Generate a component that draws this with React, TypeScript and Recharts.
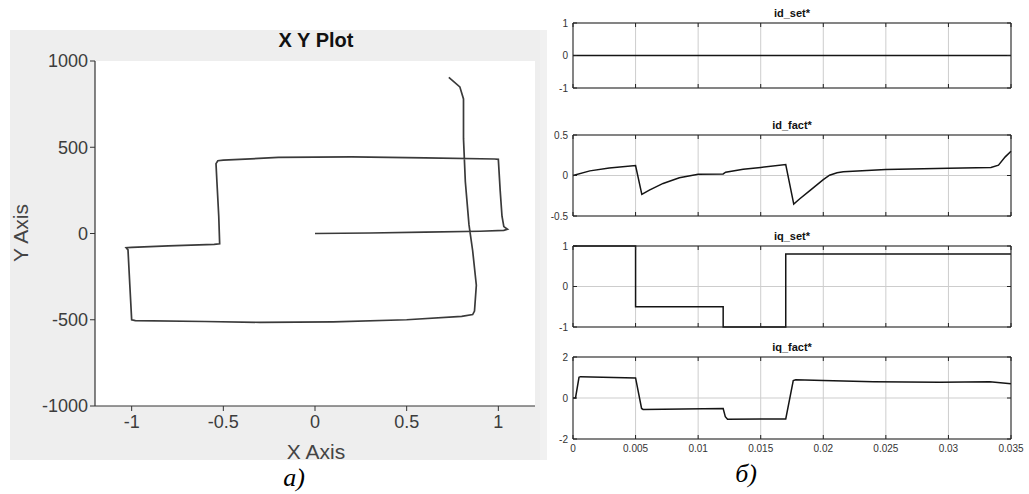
import React from 'react';
import { LineChart, Line, XAxis, YAxis, CartesianGrid } from 'recharts';

// X Y plot: trajectory points in drawing order
const xyX = [0, 0.3, 0.6, 0.9, 1.03, 1.05, 1.03, 1.02, 1.01, 1.0, 0.98, 0.6, 0.2, -0.2, -0.5, -0.53, -0.54, -0.535, -0.525, -0.52, -0.55, -0.8, -1.0, -1.03, -1.02, -1.01, -1.0, -0.98, -0.6, -0.3, 0.1, 0.5, 0.8, 0.86, 0.87, 0.88, 0.86, 0.84, 0.82, 0.81, 0.81, 0.79, 0.73];
const xyY = [0, 3, 8, 13, 18, 25, 40, 100, 250, 430, 432, 438, 444, 441, 425, 422, 405, 300, 100, -60, -63, -72, -80, -82, -95, -300, -500, -505, -510, -515, -512, -500, -480, -470, -450, -300, -100, 50, 300, 550, 780, 850, 905];
const XY_X_TICKS = [-1, -0.5, 0, 0.5, 1];
const XY_Y_TICKS = [-1000, -500, 0, 500, 1000];

// time traces
const TIME_TICKS = [0, 0.005, 0.01, 0.015, 0.02, 0.025, 0.03, 0.035];

const idSetT = [0, 0.035];
const idSetV = [0, 0];

const idFactT = [0, 0.00135, 0.0029, 0.005, 0.0055, 0.0061, 0.0072, 0.0085, 0.01, 0.012, 0.0122, 0.0136, 0.015, 0.017, 0.01764, 0.0181, 0.0189, 0.02, 0.0205, 0.0211, 0.0216, 0.025, 0.03, 0.0334, 0.034, 0.03454, 0.035];
const idFactV = [0, 0.057, 0.094, 0.123, -0.234, -0.18, -0.098, -0.029, 0.016, 0.02, 0.041, 0.078, 0.1, 0.135, -0.353, -0.29, -0.19, -0.05, 0.004, 0.033, 0.045, 0.074, 0.09, 0.098, 0.127, 0.23, 0.3];

const iqSetT = [0, 0.005, 0.012, 0.017, 0.035];
const iqSetV = [1, -0.5, -1, 0.8, 0.8];

const iqFactT = [0, 0.0002, 0.00048, 0.0006, 0.005, 0.00548, 0.0056, 0.012, 0.01217, 0.01235, 0.015, 0.017, 0.0176, 0.0178, 0.02, 0.024, 0.0293, 0.0333, 0.035];
const iqFactV = [0, 0, 1.01, 1.04, 0.98, -0.51, -0.56, -0.51, -0.91, -1.04, -1.02, -1.02, 0.85, 0.89, 0.855, 0.79, 0.77, 0.79, 0.69];

const SANS = '"Liberation Sans", Arial, sans-serif';
const SERIF = '"Liberation Serif", "Times New Roman", serif';

const zip = (t: number[], v: number[]) => t.map((x, i) => ({ t: x, v: v[i] }));
const xyData = xyX.map((x, i) => ({ x, y: xyY[i] }));
const blank = () => '';

const Text: React.FC<{ cx: number; cy: number; style?: React.CSSProperties; children: React.ReactNode }> = ({ cx, cy, style, children }) => (
  <div
    style={{
      position: 'absolute',
      left: cx,
      top: cy,
      transform: 'translate(-50%, -50%)',
      whiteSpace: 'nowrap',
      lineHeight: 1,
      ...style,
    }}
  >
    {children}
  </div>
);

interface SubPlotProps {
  title: string;
  top: number;
  plotHeight: number;
  domain: [number, number];
  yTicks: number[];
  data: { t: number; v: number }[];
  step?: boolean;
  showTime?: boolean;
}

const SubPlot: React.FC<SubPlotProps> = ({ title, top, plotHeight, domain, yTicks, data, step, showTime }) => {
  const mt = 8;
  const xh = showTime ? 24 : 8;
  const tickStyle = { fontSize: 10, fill: '#333', fontFamily: SANS };
  const frame = { stroke: '#222' };
  return (
    <>
      <Text cx={792} cy={top - 10} style={{ fontFamily: SANS, fontWeight: 700, fontSize: 11, color: '#111' }}>
        {title}
      </Text>
      <div style={{ position: 'absolute', left: 540, top: top - mt }}>
        <LineChart
          width={489}
          height={plotHeight + mt + xh}
          data={data}
          margin={{ top: mt, right: 18, bottom: 0, left: 8 }}
        >
          <CartesianGrid stroke="#cdcdcd" />
          <XAxis
            dataKey="t"
            type="number"
            domain={[0, 0.035]}
            ticks={TIME_TICKS}
            height={xh}
            tick={tickStyle}
            tickFormatter={showTime ? undefined : blank}
            tickSize={-4}
            tickMargin={10}
            axisLine={frame}
            tickLine={frame}
            interval={0}
          />
          {/* top edge of the box, ticks pointing inward */}
          <XAxis
            xAxisId="top"
            orientation="top"
            mirror
            dataKey="t"
            type="number"
            domain={[0, 0.035]}
            ticks={TIME_TICKS}
            tickFormatter={blank}
            tickSize={4}
            axisLine={frame}
            tickLine={frame}
            interval={0}
          />
          <YAxis
            type="number"
            domain={domain}
            ticks={yTicks}
            width={25}
            tick={tickStyle}
            tickSize={-4}
            tickMargin={9}
            axisLine={frame}
            tickLine={frame}
            interval={0}
          />
          <YAxis
            yAxisId="right"
            orientation="right"
            mirror
            dataKey="v"
            type="number"
            domain={domain}
            ticks={yTicks}
            tickFormatter={blank}
            tickSize={4}
            axisLine={frame}
            tickLine={frame}
            interval={0}
          />
          <Line
            dataKey="v"
            type={step ? 'stepAfter' : 'linear'}
            stroke="#151515"
            strokeWidth={1.5}
            dot={false}
            isAnimationActive={false}
          />
        </LineChart>
      </div>
    </>
  );
};

export default function App() {
  return (
    <div style={{ position: 'absolute', left: 0, top: 0, width: 1029, height: 494, background: '#fff', overflow: 'hidden' }}>
      {/* figure backgrounds */}
      <div style={{ position: 'absolute', left: 10, top: 30, width: 530, height: 430, background: '#eeeeee' }} />
      <div style={{ position: 'absolute', left: 540, top: 30, width: 7, height: 430, background: '#f1f1f1' }} />
      <div style={{ position: 'absolute', left: 95, top: 61, width: 440, height: 345, background: '#fff' }} />

      <div style={{ position: 'absolute', left: 0, top: 0 }}>
        <LineChart width={540} height={494} data={xyData} margin={{ top: 61, right: 5, bottom: 58, left: 35 }}>
          <XAxis
            dataKey="x"
            type="number"
            domain={[-1.2, 1.2]}
            ticks={XY_X_TICKS}
            height={30}
            tickSize={5}
            tickMargin={4}
            interval={0}
            axisLine={{ stroke: '#333', strokeWidth: 1.2 }}
            tickLine={{ stroke: '#333' }}
            tick={{ fontSize: 18, fill: '#3c3c3c', fontFamily: SANS }}
          />
          <YAxis
            type="number"
            domain={[-1000, 1000]}
            ticks={XY_Y_TICKS}
            width={60}
            tickSize={5}
            tickMargin={2}
            interval={0}
            axisLine={{ stroke: '#333', strokeWidth: 1.2 }}
            tickLine={{ stroke: '#333' }}
            tick={{ fontSize: 18, fill: '#3c3c3c', fontFamily: SANS }}
          />
          <Line
            dataKey="y"
            type="linear"
            stroke="#3a3a3a"
            strokeWidth={1.7}
            dot={false}
            isAnimationActive={false}
          />
        </LineChart>
      </div>

      <Text cx={316} cy={40} style={{ fontFamily: SANS, fontWeight: 700, fontSize: 20, color: '#111' }}>
        X Y Plot
      </Text>
      <Text cx={316} cy={451} style={{ fontFamily: SANS, fontSize: 21, color: '#444' }}>
        X Axis
      </Text>
      <Text cx={20} cy={233} style={{ fontFamily: SANS, fontSize: 21, color: '#444', transform: 'translate(-50%, -50%) rotate(-90deg)' }}>
        Y Axis
      </Text>

      <SubPlot title="id_set*" top={23} plotHeight={65} domain={[-1, 1]} yTicks={[-1, 0, 1]} data={zip(idSetT, idSetV)} />
      <SubPlot title="id_fact*" top={135} plotHeight={81} domain={[-0.5, 0.5]} yTicks={[-0.5, 0, 0.5]} data={zip(idFactT, idFactV)} />
      <SubPlot title="iq_set*" top={246} plotHeight={81} domain={[-1, 1]} yTicks={[-1, 0, 1]} data={zip(iqSetT, iqSetV)} step />
      <SubPlot title="iq_fact*" top={357} plotHeight={82} domain={[-2, 2]} yTicks={[-2, 0, 2]} data={zip(iqFactT, iqFactV)} showTime />

      <Text cx={294} cy={478} style={{ fontFamily: SERIF, fontStyle: 'italic', fontSize: 26, color: '#000' }}>
        а)
      </Text>
      <Text cx={746} cy={474} style={{ fontFamily: SERIF, fontStyle: 'italic', fontSize: 26, color: '#000' }}>
        б)
      </Text>
    </div>
  );
}
